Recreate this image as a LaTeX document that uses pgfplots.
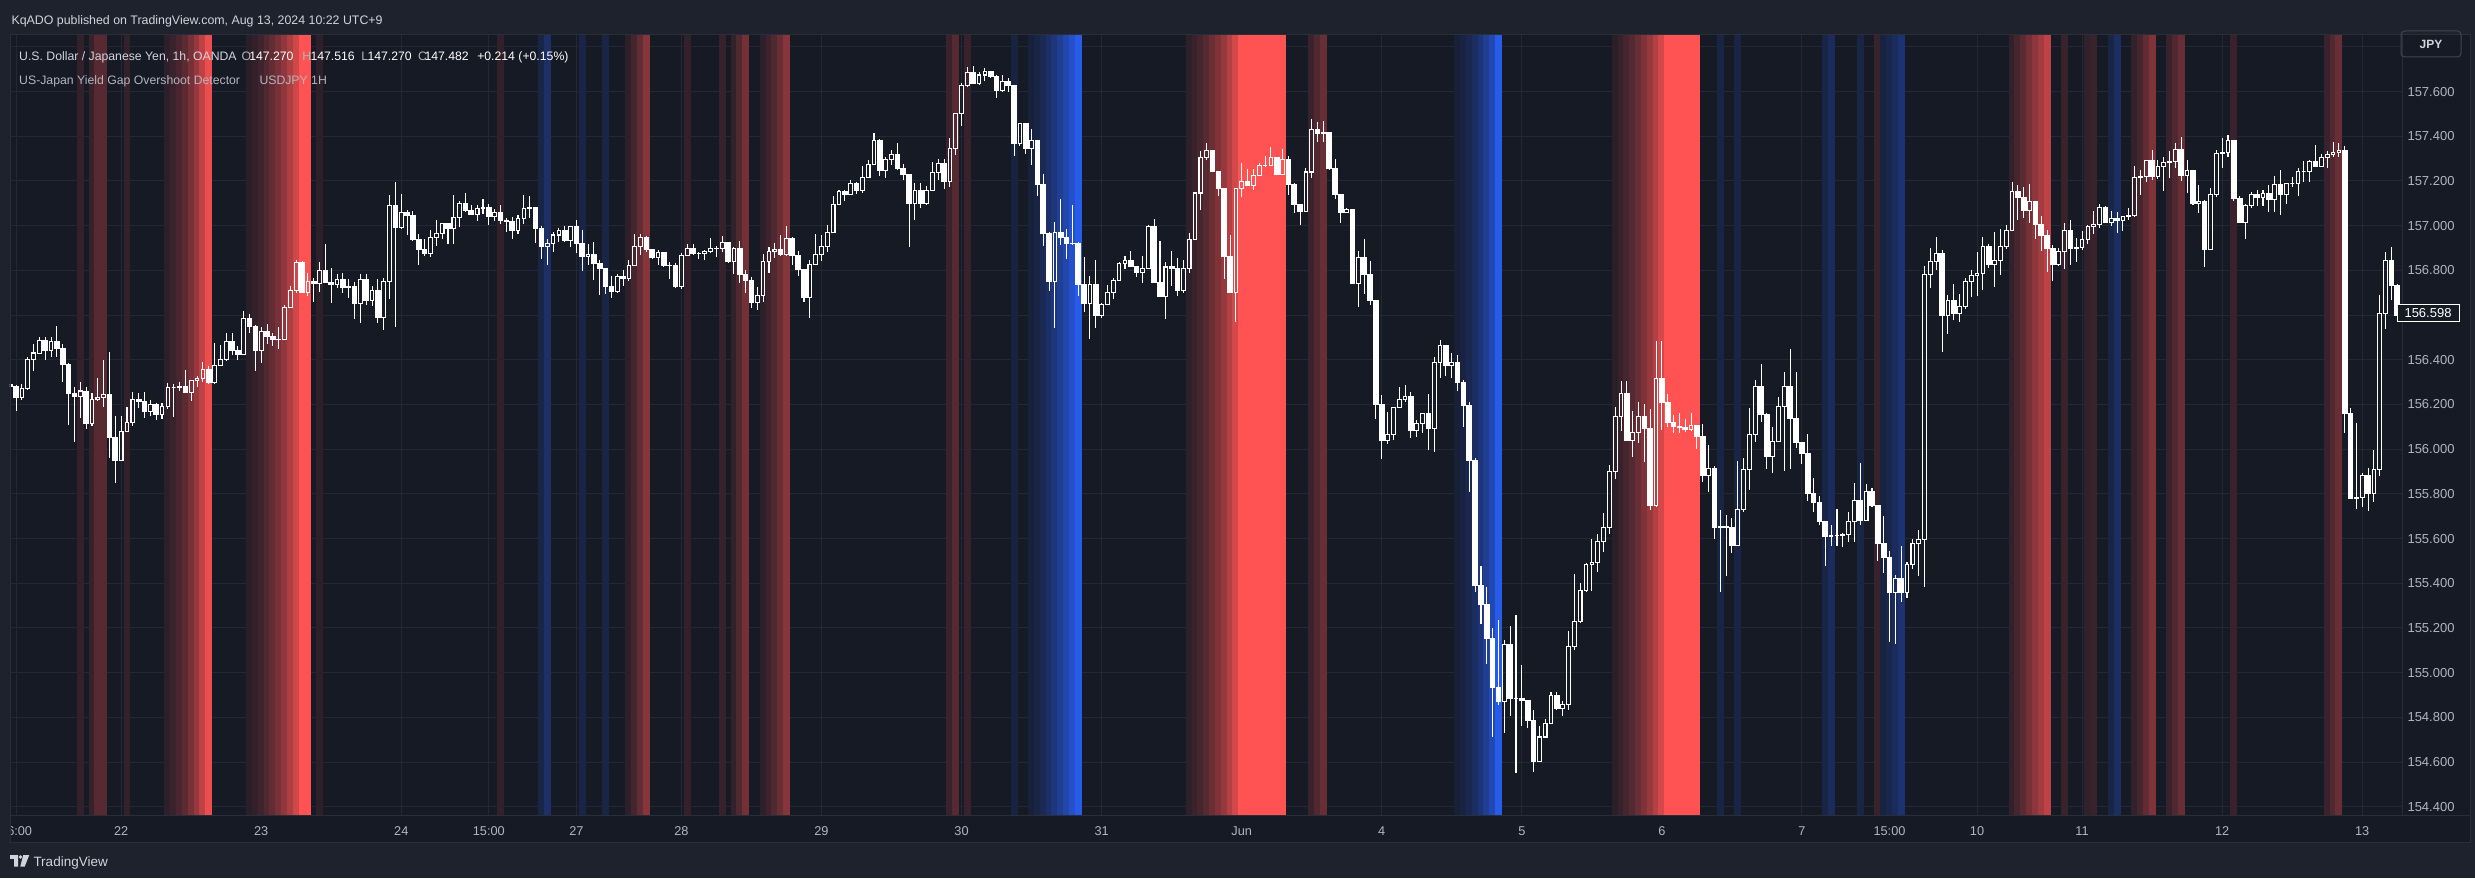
\documentclass[border=0pt]{standalone}
\usepackage{fontspec}
\setmainfont{Liberation Sans}
\usepackage{pgfplots}
\usepackage{pgfplotstable}
\pgfplotsset{compat=1.18}
\pgfdeclareplotmark{nothing}{}
\definecolor{frame}{HTML}{1E222D}
\definecolor{panel}{HTML}{161A25}
\definecolor{gridc}{HTML}{242834}
\definecolor{sepc}{HTML}{2A2E39}
\definecolor{tvred}{HTML}{FF5252}
\definecolor{tvblue}{HTML}{2962FF}
\definecolor{labc}{HTML}{B2B5BE}
\definecolor{txtc}{HTML}{D1D4DC}
\definecolor{jpyc}{HTML}{434651}

\pgfplotstableread{
idx open high low close
1 156.29 156.31 156.26 156.28
2 156.28 156.285 156.17 156.23
3 156.23 156.29 156.22 156.27
4 156.27 156.41 156.265 156.40
5 156.40 156.47 156.35 156.43
6 156.43 156.50 156.425 156.485
7 156.485 156.50 156.40 156.44
8 156.44 156.50 156.41 156.48
9 156.48 156.55 156.41 156.45
10 156.45 156.47 156.30 156.38
11 156.38 156.385 156.11 156.25
12 156.25 156.28 156.03 156.235
13 156.235 156.30 156.14 156.26
14 156.26 156.28 156.09 156.115
15 156.115 156.25 156.105 156.22
16 156.22 156.32 156.215 156.23
17 156.23 156.40 156.19 156.245
18 156.245 156.435 155.96 156.05
19 156.05 156.15 155.85 155.95
20 155.95 156.15 155.95 156.08
21 156.08 156.19 156.075 156.12
22 156.12 156.255 156.105 156.22
23 156.22 156.25 156.185 156.215
24 156.215 156.255 156.14 156.17
25 156.17 156.22 156.15 156.20
26 156.20 156.205 156.13 156.155
27 156.155 156.205 156.135 156.19
28 156.19 156.295 156.18 156.275
29 156.275 156.29 156.145 156.275
30 156.275 156.30 156.26 156.278
31 156.278 156.355 156.25 156.255
32 156.255 156.31 156.215 156.305
33 156.305 156.325 156.28 156.315
34 156.315 156.39 156.30 156.355
35 156.355 156.37 156.29 156.30
36 156.30 156.475 156.29 156.375
37 156.375 156.465 156.37 156.40
38 156.40 156.52 156.395 156.48
39 156.48 156.52 156.42 156.44
40 156.44 156.46 156.40 156.425
41 156.425 156.62 156.42 156.585
42 156.585 156.605 156.52 156.55
43 156.55 156.555 156.35 156.44
44 156.44 156.545 156.385 156.525
45 156.525 156.56 156.47 156.505
46 156.505 156.52 156.46 156.49
47 156.49 156.545 156.45 156.492
48 156.492 156.645 156.488 156.635
49 156.635 156.73 156.63 156.71
50 156.71 156.848 156.70 156.833
51 156.833 156.84 156.70 156.70
52 156.70 156.79 156.685 156.75
53 156.75 156.765 156.66 156.74
54 156.74 156.837 156.705 156.80
55 156.80 156.92 156.745 156.745
56 156.745 156.81 156.655 156.735
57 156.735 156.785 156.72 156.76
58 156.76 156.79 156.70 156.725
59 156.725 156.76 156.675 156.727
60 156.727 156.75 156.58 156.65
61 156.65 156.785 156.565 156.76
62 156.76 156.785 156.646 156.665
63 156.665 156.73 156.64 156.71
64 156.71 156.76 156.565 156.59
65 156.59 156.765 156.535 156.75
66 156.75 157.139 156.671 157.088
67 157.088 157.197 156.545 156.993
68 156.993 157.142 156.985 157.057
69 157.057 157.072 156.96 157.047
70 157.047 157.067 156.933 156.938
71 156.938 156.963 156.826 156.894
72 156.894 156.938 156.863 156.877
73 156.877 156.982 156.859 156.945
74 156.945 157.023 156.911 156.963
75 156.963 157.01 156.938 157.008
76 157.008 157.01 156.92 156.988
77 156.988 157.139 156.92 157.035
78 157.035 157.108 156.996 157.099
79 157.099 157.148 157.06 157.066
80 157.066 157.093 157.046 157.051
81 157.051 157.093 157.02 157.078
82 157.078 157.118 157.052 157.082
83 157.082 157.097 157.004 157.04
84 157.04 157.073 157.022 157.057
85 157.057 157.093 157.006 157.021
86 157.021 157.033 156.97 157.018
87 157.018 157.037 156.942 156.978
88 156.978 157.046 156.964 157.033
89 157.033 157.137 157.009 157.078
90 157.078 157.133 157.033 157.079
91 157.079 157.08 156.921 156.987
92 156.987 157.0 156.851 156.906
93 156.906 156.939 156.826 156.918
94 156.918 156.973 156.883 156.958
95 156.958 156.991 156.927 156.979
96 156.979 156.999 156.93 156.933
97 156.933 157.0 156.906 156.997
98 156.997 157.025 156.876 156.918
99 156.918 156.982 156.799 156.861
100 156.861 156.918 156.822 156.872
101 156.872 156.928 156.758 156.83
102 156.83 156.846 156.691 156.806
103 156.806 156.809 156.694 156.727
104 156.727 156.773 156.675 156.705
105 156.705 156.782 156.697 156.773
106 156.773 156.8 156.73 156.763
107 156.763 156.846 156.754 156.822
108 156.822 156.962 156.82 156.907
109 156.907 156.962 156.869 156.946
110 156.946 156.954 156.882 156.891
111 156.891 156.893 156.849 156.857
112 156.857 156.891 156.825 156.88
113 156.88 156.882 156.82 156.821
114 156.821 156.836 156.761 156.823
115 156.823 156.831 156.726 156.727
116 156.727 156.879 156.715 156.867
117 156.867 156.918 156.865 156.897
118 156.897 156.918 156.873 156.875
119 156.875 156.882 156.849 156.877
120 156.877 156.89 156.846 156.883
121 156.883 156.943 156.876 156.898
122 156.898 156.909 156.861 156.896
123 156.896 156.954 156.884 156.926
124 156.926 156.928 156.838 156.839
125 156.839 156.903 156.784 156.898
126 156.898 156.93 156.742 156.782
127 156.782 156.801 156.697 156.754
128 156.754 156.772 156.63 156.655
129 156.655 156.724 156.622 156.688
130 156.688 156.871 156.659 156.84
131 156.84 156.906 156.79 156.885
132 156.885 156.924 156.855 156.894
133 156.894 156.96 156.868 156.87
134 156.87 156.997 156.869 156.943
135 156.943 156.951 156.825 156.867
136 156.867 156.885 156.773 156.803
137 156.803 156.805 156.66 156.678
138 156.678 156.846 156.585 156.827
139 156.827 156.963 156.825 156.872
140 156.872 156.957 156.84 156.907
141 156.907 157.003 156.88 156.97
142 156.97 157.133 156.968 157.096
143 157.096 157.16 157.094 157.154
144 157.154 157.16 157.112 157.14
145 157.14 157.205 157.138 157.19
146 157.19 157.193 157.142 157.157
147 157.157 157.267 157.148 157.216
148 157.216 157.294 157.214 157.275
149 157.275 157.416 157.27 157.379
150 157.379 157.386 157.224 157.248
151 157.248 157.309 157.212 157.294
152 157.294 157.339 157.273 157.319
153 157.319 157.37 157.253 157.255
154 157.255 157.277 157.204 157.228
155 157.228 157.233 156.906 157.099
156 157.099 157.191 157.027 157.157
157 157.157 157.19 157.078 157.099
158 157.099 157.178 157.097 157.158
159 157.158 157.285 157.156 157.236
160 157.236 157.298 157.206 157.276
161 157.276 157.3 157.163 157.199
162 157.199 157.393 157.172 157.344
163 157.344 157.506 157.315 157.5
164 157.5 157.64 157.444 157.628
165 157.628 157.709 157.622 157.686
166 157.686 157.715 157.632 157.637
167 157.637 157.686 157.631 157.674
168 157.674 157.706 157.649 157.689
169 157.689 157.692 157.664 157.667
170 157.667 157.676 157.569 157.604
171 157.604 157.676 157.598 157.646
172 157.646 157.662 157.6 157.627
173 157.627 157.63 157.31 157.368
174 157.368 157.459 157.358 157.459
175 157.459 157.46 157.32 157.346
176 157.346 157.432 157.27 157.383
177 157.383 157.385 157.133 157.184
178 157.184 157.231 156.909 156.967
179 156.967 156.971 156.708 156.749
180 156.749 157.016 156.543 156.971
181 156.971 157.12 156.913 156.949
182 156.949 156.985 156.852 156.919
183 156.919 157.094 156.918 156.922
184 156.922 156.925 156.685 156.735
185 156.735 156.861 156.614 156.651
186 156.651 156.775 156.492 156.735
187 156.735 156.845 156.543 156.596
188 156.596 156.655 156.587 156.645
189 156.645 156.736 156.645 156.7
190 156.7 156.766 156.67 156.754
191 156.754 156.839 156.754 156.83
192 156.83 156.864 156.807 156.843
193 156.843 156.885 156.819 156.819
194 156.819 156.819 156.768 156.79
195 156.79 156.864 156.745 156.807
196 156.807 157.002 156.807 156.995
197 156.995 157.03 156.745 156.745
198 156.745 156.93 156.681 156.681
199 156.681 156.836 156.58 156.815
200 156.815 156.885 156.73 156.807
201 156.807 156.856 156.685 156.708
202 156.708 156.844 156.7 156.807
203 156.807 156.965 156.79 156.937
204 156.937 157.15 156.937 157.146
205 157.146 157.335 157.069 157.303
206 157.303 157.37 157.295 157.338
207 157.338 157.34 157.243 157.243
208 157.243 157.246 157.132 157.166
209 157.166 157.17 156.76 156.864
210 156.864 156.957 156.7 156.7
211 156.7 157.164 156.567 157.164
212 157.164 157.28 157.127 157.196
213 157.196 157.253 157.181 157.181
214 157.181 157.255 157.158 157.224
215 157.224 157.28 157.224 157.268
216 157.268 157.31 157.265 157.271
217 157.271 157.35 157.27 157.304
218 157.304 157.306 157.228 157.23
219 157.23 157.345 157.23 157.295
220 157.295 157.31 157.137 157.185
221 157.185 157.19 157.058 157.093
222 157.093 157.094 157.003 157.065
223 157.065 157.258 157.063 157.24
224 157.24 157.478 157.212 157.429
225 157.429 157.462 157.372 157.414
226 157.414 157.47 157.372 157.415
227 157.415 157.417 157.249 157.256
228 157.256 157.3 157.12 157.14
229 157.14 157.143 157.013 157.06
230 157.06 157.078 157.058 157.074
231 157.074 157.075 156.743 156.743
232 156.743 156.888 156.636 156.859
233 156.859 156.94 156.693 156.781
234 156.781 156.84 156.645 156.665
235 156.665 156.668 156.134 156.2
236 156.2 156.242 155.955 156.04
237 156.04 156.166 156.022 156.067
238 156.067 156.19 156.04 156.188
239 156.188 156.276 156.183 156.223
240 156.223 156.288 156.21 156.237
241 156.237 156.257 156.049 156.083
242 156.083 156.131 156.055 156.113
243 156.113 156.163 156.07 156.158
244 156.158 156.247 155.995 156.094
245 156.094 156.41 155.987 156.389
246 156.389 156.489 156.317 156.465
247 156.465 156.465 156.325 156.374
248 156.374 156.429 156.317 156.389
249 156.389 156.422 156.258 156.3
250 156.3 156.309 156.099 156.194
251 156.194 156.21 155.809 155.951
252 155.951 155.96 155.363 155.39
253 155.39 155.476 155.219 155.304
254 155.304 155.385 155.039 155.154
255 155.154 155.2 154.711 154.934
256 154.934 155.235 154.856 154.87
257 154.87 155.146 154.728 155.127
258 155.127 155.208 154.808 154.883
259 154.883 155.257 154.55 154.886
260 154.886 155.034 154.763 154.876
261 154.876 154.876 154.752 154.786
262 154.786 154.832 154.555 154.604
263 154.604 154.759 154.604 154.712
264 154.712 154.792 154.71 154.773
265 154.773 154.915 154.77 154.899
266 154.899 154.915 154.832 154.84
267 154.84 154.872 154.806 154.859
268 154.859 155.186 154.832 155.119
269 155.119 155.441 155.103 155.229
270 155.229 155.402 155.222 155.367
271 155.367 155.49 155.36 155.484
272 155.484 155.597 155.365 155.492
273 155.492 155.619 155.452 155.587
274 155.587 155.713 155.541 155.651
275 155.651 155.927 155.62 155.9
276 155.9 156.19 155.868 156.145
277 156.145 156.306 156.083 156.247
278 156.247 156.306 156.035 156.04
279 156.04 156.172 155.967 156.073
280 156.073 156.21 156.027 156.148
281 156.148 156.2 155.943 156.094
282 156.094 156.18 155.729 155.747
283 155.747 156.484 155.74 156.314
284 156.314 156.482 156.085 156.207
285 156.207 156.246 156.1 156.121
286 156.121 156.152 156.073 156.1
287 156.1 156.16 156.073 156.096
288 156.096 156.133 156.075 156.087
289 156.087 156.16 156.086 156.106
290 156.106 156.11 155.999 156.055
291 156.055 156.112 155.855 155.882
292 155.882 156.018 155.806 155.914
293 155.914 155.925 155.598 155.65
294 155.65 155.729 155.36 155.652
295 155.652 155.707 155.432 155.648
296 155.648 155.693 155.534 155.57
297 155.57 155.947 155.565 155.732
298 155.732 155.96 155.717 155.91
299 155.91 156.182 155.815 156.066
300 156.066 156.311 156.033 156.28
301 156.28 156.379 156.122 156.156
302 156.156 156.161 155.913 155.969
303 155.969 156.101 155.895 156.035
304 156.035 156.232 156.03 156.191
305 156.191 156.344 155.9 156.28
306 156.28 156.446 155.91 156.136
307 156.136 156.344 156.006 156.029
308 156.029 156.03 155.934 155.98
309 155.98 156.067 155.77 155.8
310 155.8 155.871 155.717 155.761
311 155.761 155.791 155.662 155.677
312 155.677 155.68 155.476 155.61
313 155.61 155.662 155.568 155.613
314 155.613 155.732 155.568 155.614
315 155.614 155.625 155.562 155.62
316 155.62 155.72 155.583 155.678
317 155.678 155.848 155.583 155.772
318 155.772 155.937 155.662 155.681
319 155.681 155.845 155.677 155.812
320 155.812 155.825 155.739 155.748
321 155.748 155.751 155.499 155.579
322 155.579 155.702 155.445 155.516
323 155.516 155.543 155.138 155.36
324 155.36 155.438 155.126 155.42
325 155.42 155.568 155.316 155.357
326 155.357 155.496 155.335 155.485
327 155.485 155.598 155.462 155.576
328 155.576 155.64 155.432 155.594
329 155.594 156.82 155.384 156.78
330 156.78 156.9 156.72 156.84
331 156.84 156.95 156.80 156.874
332 156.874 156.892 156.434 156.599
333 156.599 156.691 156.517 156.666
334 156.666 156.74 156.577 156.608
335 156.608 156.696 156.568 156.639
336 156.639 156.766 156.627 156.748
337 156.748 156.8 156.681 156.775
338 156.775 156.882 156.684 156.786
339 156.786 156.95 156.711 156.906
340 156.906 156.919 156.809 156.827
341 156.827 156.973 156.726 156.842
342 156.842 156.986 156.778 156.906
343 156.906 157.001 156.894 156.98
344 156.98 157.196 156.974 157.154
345 157.154 157.181 157.026 157.128
346 157.128 157.172 157.032 157.068
347 157.068 157.187 157.013 157.11
348 157.11 157.11 156.938 157.005
349 157.005 157.044 156.885 156.956
350 156.956 156.982 156.791 156.898
351 156.898 156.915 156.751 156.827
352 156.827 156.898 156.818 156.886
353 156.886 157.011 156.805 156.98
354 156.98 157.025 156.822 156.898
355 156.898 156.946 156.836 156.904
356 156.904 156.977 156.889 156.938
357 156.938 157.005 156.916 156.998
358 156.998 157.066 156.961 157.007
359 157.007 157.096 156.988 157.083
360 157.083 157.09 157.01 157.014
361 157.014 157.066 157.0 157.034
362 157.034 157.062 156.968 157.022
363 157.022 157.044 156.974 157.04
364 157.04 157.08 157.023 157.046
365 157.046 157.267 157.038 157.217
366 157.217 157.247 157.135 157.221
367 157.221 157.295 157.193 157.293
368 157.293 157.339 157.203 157.22
369 157.22 157.294 157.208 157.266
370 157.266 157.306 157.153 157.284
371 157.284 157.334 157.215 157.285
372 157.285 157.369 157.257 157.342
373 157.342 157.396 157.2 157.226
374 157.226 157.294 157.148 157.248
375 157.248 157.25 157.093 157.099
376 157.099 157.181 157.055 157.107
377 157.107 157.116 156.813 156.895
378 156.895 157.168 156.895 157.139
379 157.139 157.339 157.128 157.324
380 157.324 157.393 157.256 157.327
381 157.327 157.406 157.306 157.382
382 157.382 157.383 157.11 157.122
383 157.122 157.134 157.01 157.014
384 157.014 157.095 156.938 157.09
385 157.09 157.151 157.077 157.139
386 157.139 157.16 157.086 157.127
387 157.127 157.16 157.086 157.145
388 157.145 157.181 157.063 157.117
389 157.117 157.223 157.063 157.186
390 157.186 157.25 157.049 157.139
391 157.139 157.19 157.098 157.19
392 157.19 157.218 157.171 157.19
393 157.19 157.257 157.133 157.242
394 157.242 157.29 157.193 157.242
395 157.242 157.294 157.193 157.287
396 157.287 157.361 157.262 157.265
397 157.265 157.321 157.262 157.306
398 157.306 157.334 157.26 157.32
399 157.32 157.373 157.309 157.327
400 157.327 157.369 157.309 157.337
401 157.337 157.357 156.073 156.161
402 156.161 156.182 155.775 155.781
403 155.781 156.115 155.731 155.783
404 155.783 155.894 155.741 155.884
405 155.884 155.914 155.724 155.801
406 155.801 155.994 155.764 155.908
407 155.908 156.69 155.88 156.605
408 156.605 156.882 156.538 156.842
409 156.842 156.906 156.666 156.733
410 156.733 156.74 156.59 156.598
}\candles

\pgfplotstableread{
idx alpha kind
13 12 0
15 14 0
16 28 0
17 28 0
21 12 0
28 10 0
29 15 0
30 22 0
31 30 0
32 42 0
33 55 0
34 72 0
35 92 0
42 8 0
43 12 0
44 18 0
45 25 0
46 33 0
47 42 0
48 52 0
49 65 0
50 80 0
51 100 0
52 100 0
54 10 0
85 12 0
92 15 1
93 30 1
99 15 1
103 15 1
107 10 0
108 20 0
109 32 0
110 48 0
117 12 0
123 14 0
125 12 0
126 25 0
127 40 0
130 10 0
131 17 0
132 25 0
133 35 0
134 48 0
162 15 0
163 28 0
165 15 0
173 12 1
176 10 1
177 15 1
178 22 1
179 30 1
180 40 1
181 50 1
182 62 1
183 76 1
184 90 1
203 10 0
204 15 0
205 20 0
206 28 0
207 36 0
208 45 0
209 55 0
210 68 0
211 82 0
212 100 0
213 100 0
214 100 0
215 100 0
216 100 0
217 100 0
218 100 0
219 100 0
224 15 0
225 25 0
226 35 0
249 8 1
250 13 1
251 20 1
252 28 1
253 38 1
254 50 1
255 65 1
256 90 1
276 8 0
277 14 0
278 20 0
279 27 0
280 35 0
281 45 0
282 56 0
283 68 0
284 82 0
285 100 0
286 100 0
287 100 0
288 100 0
289 100 0
290 100 0
294 15 1
297 15 1
312 15 1
313 25 1
318 15 1
321 15 0
322 12 1
323 18 1
324 25 1
325 35 1
344 12 0
345 20 0
346 30 0
347 40 0
348 50 0
349 60 0
350 72 0
353 15 0
357 12 0
358 15 0
361 15 1
362 28 1
365 12 0
366 20 0
367 32 0
368 45 0
371 15 0
372 25 0
373 35 0
382 15 0
398 15 0
399 25 0
400 35 0
}\bands

\begin{document}
\begin{tikzpicture}
\useasboundingbox (0pt,0pt) rectangle (990pt,351.2pt);
\fill[frame] (0pt,0pt) rectangle (990pt,351.2pt);
\fill[panel] (4pt,14.4pt) rectangle (988pt,337.2pt);
\begin{axis}[
  at={(4pt,25.2pt)}, anchor=south west,
  x=2.3344pt, y=89.4pt,
  xmin=0.951, xmax=410.82, ymin=154.363, ymax=157.853,
  axis line style={draw=none},
  major tick length=0pt,
  grid=major,
  major grid style={draw=gridc, line width=0.4pt},
  ytick={154.4,154.6,154.8,155.0,155.2,155.4,155.6,155.8,156.0,156.2,156.4,156.6,156.8,157.0,157.2,157.4,157.6},
  extra y ticks={157.8},
  extra y tick labels={},
  yticklabel pos=right,
  yticklabel style={/pgf/number format/.cd, fixed, fixed zerofill, precision=3, assume math mode=true, /tikz/.cd, font=\fontsize{5.2}{6}\selectfont, text=labc, anchor=west, inner sep=0pt, xshift=2pt},
  xtick={2,20,44,68,83,98,116,140,164,188,212,236,260,284,308,323,338,356,380,404},
  xticklabels={06:00,22,23,24,15:00,27,28,29,30,31,Jun,4,5,6,7,15:00,10,11,12,13},
  xticklabel style={font=\fontsize{5.1}{6}\selectfont, text=labc, anchor=base, inner sep=0pt, yshift=-8pt},
  clip marker paths=true,
  point meta min=0, point meta max=200,
]
\addplot[scatter, only marks, mark=nothing,
  visualization depends on={\thisrow{alpha} \as \bandalpha},
  visualization depends on={\thisrow{kind} \as \bandkind},
  scatter/@pre marker code/.code={%
    \pgfkeys{/pgf/fpu=true,/pgf/fpu/output format=fixed}%
    \pgfmathparse{round(\bandalpha)}\pgfmathtruncatemacro\bandA{\pgfmathresult}%
    \pgfmathparse{round(\bandkind)}\pgfmathtruncatemacro\bandK{\pgfmathresult}%
    \pgfkeys{/pgf/fpu=false}%
    \ifnum\bandK=0 \def\bandcol{tvred}\else\def\bandcol{tvblue}\fi
    \fill[\bandcol!\bandA!panel] (-1.18pt,0pt) rectangle (1.18pt,312pt);%
  },
  scatter/@post marker code/.code={},
] table[x=idx, y expr=154.363] {\bands};
\addplot[scatter, only marks, mark=nothing,
  visualization depends on={\thisrow{open} \as \cdlO},
  visualization depends on={\thisrow{high} \as \cdlH},
  visualization depends on={\thisrow{low} \as \cdlL},
  visualization depends on={\thisrow{close} \as \cdlC},
  scatter/@pre marker code/.code={%
    \pgfkeys{/pgf/fpu=true,/pgf/fpu/output format=fixed}%
    \pgfmathparse{(\cdlO-\cdlC)*89.4}\let\yO\pgfmathresult
    \pgfmathparse{(\cdlH-\cdlC)*89.4}\let\yH\pgfmathresult
    \pgfmathparse{(\cdlL-\cdlC)*89.4}\let\yL\pgfmathresult
    \pgfmathparse{max(\yO,0)}\let\yT\pgfmathresult
    \pgfmathparse{min(\yO,0)}\let\yB\pgfmathresult
    \pgfkeys{/pgf/fpu=false}%
    \draw[white, line width=0.42pt] (0pt,\yT pt) -- (0pt,\yH pt) (0pt,\yB pt) -- (0pt,\yL pt);%
    \ifdim\yO pt>0.05pt
      \fill[white] (-0.94pt,0pt) rectangle (0.94pt,\yO pt);%
    \else
      \draw[white, line width=0.42pt] (-0.73pt,0pt) rectangle (0.73pt,\yO pt);%
    \fi
  },
  scatter/@post marker code/.code={},
] table[x=idx, y=close] {\candles};
\end{axis}
% separators and frame
\draw[sepc, line width=0.4pt] (4pt,25.2pt) -- (988pt,25.2pt);
\draw[sepc, line width=0.4pt] (960.8pt,25.2pt) -- (960.8pt,337.2pt);
\draw[sepc, line width=0.4pt] (4pt,14.4pt) rectangle (988pt,337.2pt);
\fill[frame] (0pt,14pt) rectangle (3.8pt,25.2pt);
% price label and currency box
\node[draw=white, fill=panel, line width=0.4pt, text=white, font=\fontsize{5.2}{6}\selectfont, inner sep=0pt, minimum width=24.8pt, minimum height=6.8pt] at (971.2pt,225.8pt) {156.598};
\node[draw=jpyc, rounded corners=1.5pt, line width=0.4pt, minimum width=24pt, minimum height=10.4pt, inner sep=0pt, text=txtc, font=\fontsize{4.8}{6}\selectfont\bfseries] at (972.4pt,333.6pt) {JPY};
% header
\node[anchor=base west, inner sep=0pt, text=txtc, font=\fontsize{4.95}{6}\selectfont] at (4.4pt,341.2pt) {KqADO published on TradingView.com, Aug 13, 2024 10:22 UTC+9};
% legend
\begin{scope}[every node/.style={anchor=base west, inner sep=0pt, font=\fontsize{4.9}{6}\selectfont}]
\node[text=txtc] at (7.5pt,326.8pt) {U.S. Dollar / Japanese Yen, 1h, OANDA};
\node[text=labc] at (96.4pt,326.8pt) {O};
\node[text=white] at (99.5pt,326.8pt) {147.270};
\node[text=labc] at (120.7pt,326.8pt) {H};
\node[text=white] at (124pt,326.8pt) {147.516};
\node[text=labc] at (144.3pt,326.8pt) {L};
\node[text=white] at (146.8pt,326.8pt) {147.270};
\node[text=labc] at (167pt,326.8pt) {C};
\node[text=white] at (169.6pt,326.8pt) {147.482};
\node[text=white] at (190.7pt,326.8pt) {+0.214 (+0.15\%)};
\node[text=labc] at (7.5pt,317.4pt) {US-Japan Yield Gap Overshoot Detector};
\node[text=labc] at (103.6pt,317.4pt) {USDJPY 1H};
\end{scope}
% footer logo
\fill[txtc] (4pt,9.2pt) -- (7.2pt,9.2pt) -- (7.2pt,4.6pt) -- (5.6pt,4.6pt) -- (5.6pt,7.7pt) -- (4pt,7.7pt) -- cycle;
\fill[txtc] (8.2pt,8.4pt) circle (0.75pt);
\fill[txtc] (9.3pt,9.2pt) -- (11.7pt,9.2pt) -- (9.9pt,4.6pt) -- (8.1pt,4.6pt) -- cycle;
\node[anchor=base west, inner sep=0pt, text=txtc, font=\fontsize{5.4}{6}\selectfont] at (13.2pt,4.8pt) {TradingView};
\end{tikzpicture}
\end{document}
